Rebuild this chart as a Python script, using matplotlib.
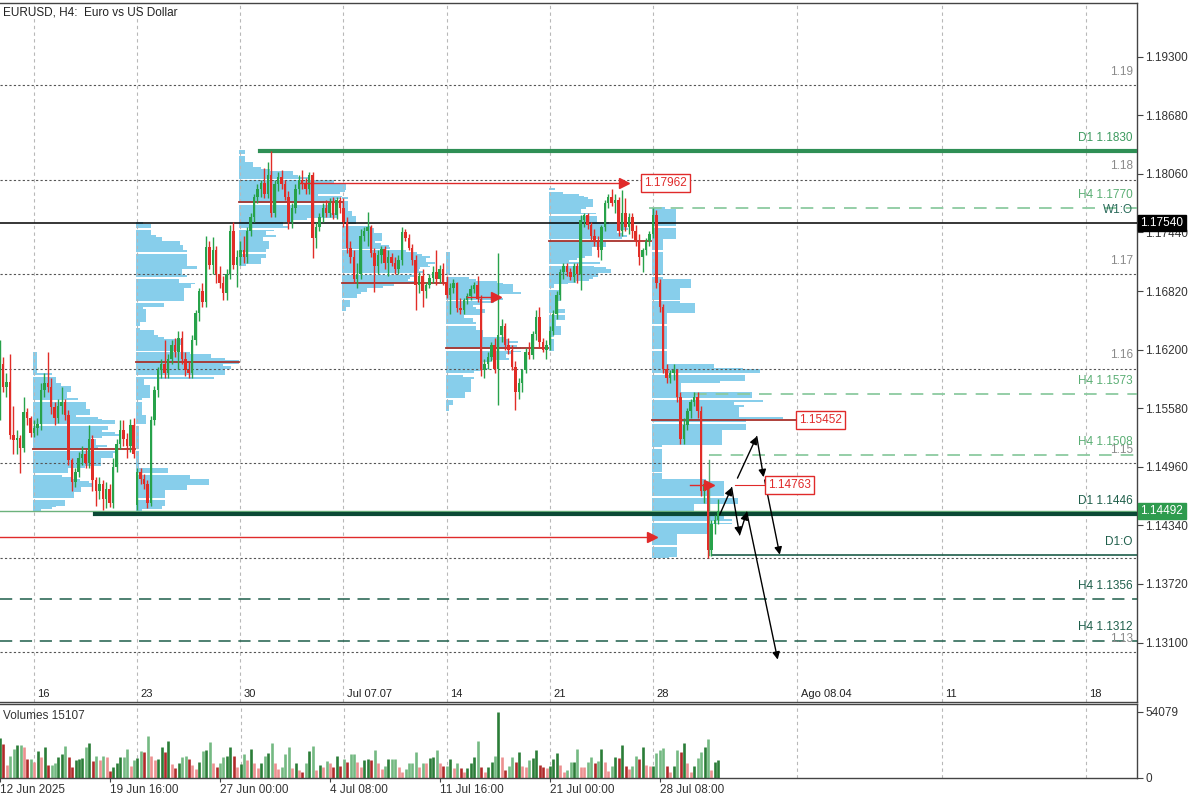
import numpy as np
import matplotlib.pyplot as plt
from matplotlib import transforms

plt.rcParams['font.family'] = ['Liberation Sans', 'DejaVu Sans']

# EURUSD H4 bars, 12 Jun 2025 08:00 .. 31 Jul 2025 04:00
opens = [
    1.1555, 1.1605, 1.1580, 1.1586, 1.1530, 1.1524, 1.1527, 1.1516, 1.1554, 1.1548,
    1.1532, 1.1537, 1.1541, 1.1577, 1.1585, 1.1580, 1.1559, 1.1548, 1.1560, 1.1565,
    1.1551, 1.1503, 1.1480, 1.1490, 1.1505, 1.1510, 1.1500, 1.1525, 1.1482, 1.1470,
    1.1478, 1.1462, 1.1472, 1.1458, 1.1496, 1.1520, 1.1535, 1.1525, 1.1518, 1.1540,
    1.1456, 1.1490, 1.1483, 1.1478, 1.1458, 1.1545, 1.1577, 1.1598, 1.1605, 1.1595,
    1.1610, 1.1625, 1.1618, 1.1632, 1.1610, 1.1598, 1.1595, 1.1630, 1.1659, 1.1682,
    1.1670, 1.1729, 1.1710, 1.1725, 1.1700, 1.1690, 1.1680, 1.1700, 1.1745, 1.1710,
    1.1718, 1.1725, 1.1718, 1.1745, 1.1760, 1.1782, 1.1790, 1.1796, 1.1785, 1.1805,
    1.1765, 1.1795, 1.1803, 1.1795, 1.1782, 1.1755, 1.1770, 1.1790, 1.1800, 1.1795,
    1.1790, 1.1805, 1.1738, 1.1750, 1.1760, 1.1770, 1.1765, 1.1775, 1.1762, 1.1778,
    1.1770, 1.1755, 1.1728, 1.1718, 1.1695, 1.1700, 1.1740, 1.1745, 1.1750, 1.1722,
    1.1708, 1.1720, 1.1726, 1.1712, 1.1718, 1.1712, 1.1705, 1.1715, 1.1744, 1.1738,
    1.1728, 1.1715, 1.1688, 1.1698, 1.1682, 1.1688, 1.1696, 1.1702, 1.1695, 1.1705,
    1.1692, 1.1678, 1.1685, 1.1690, 1.1664, 1.1662, 1.1672, 1.1677, 1.1684, 1.1688,
    1.1674, 1.1598, 1.1605, 1.1612, 1.1625, 1.1600, 1.1635, 1.1645, 1.1625, 1.1620,
    1.1602, 1.1575, 1.1585, 1.1598, 1.1618, 1.1614, 1.1636, 1.1655, 1.1628, 1.1620,
    1.1625, 1.1640, 1.1658, 1.1678, 1.1702, 1.1708, 1.1702, 1.1697, 1.1708, 1.1700,
    1.1757, 1.1762, 1.1752, 1.1740, 1.1735, 1.1725, 1.1750, 1.1775, 1.1782, 1.1775,
    1.1778, 1.1745, 1.1765, 1.1750, 1.1760, 1.1745, 1.1735, 1.1718, 1.1725, 1.1735,
    1.1742, 1.1762, 1.1690, 1.1665, 1.1600, 1.1590, 1.1595, 1.1598, 1.1570, 1.1525,
    1.1540, 1.1555, 1.1565, 1.1570, 1.1555, 1.1470, 1.1478, 1.1408, 1.1435, 1.1440,
]
highs = [
    1.1630, 1.1612, 1.1595, 1.1615, 1.1560, 1.1535, 1.1530, 1.1570, 1.1558, 1.1550,
    1.1545, 1.1548, 1.1585, 1.1595, 1.1617, 1.1590, 1.1565, 1.1568, 1.1580, 1.1568,
    1.1556, 1.1505, 1.1495, 1.1512, 1.1518, 1.1515, 1.1540, 1.1530, 1.1485, 1.1485,
    1.1482, 1.1480, 1.1478, 1.1505, 1.1525, 1.1545, 1.1545, 1.1532, 1.1547, 1.1548,
    1.1495, 1.1495, 1.1488, 1.1482, 1.1550, 1.1582, 1.1602, 1.1610, 1.1630, 1.1615,
    1.1630, 1.1632, 1.1640, 1.1640, 1.1618, 1.1608, 1.1635, 1.1662, 1.1685, 1.1690,
    1.1740, 1.1735, 1.1739, 1.1730, 1.1708, 1.1698, 1.1705, 1.1752, 1.1755, 1.1725,
    1.1735, 1.1740, 1.1750, 1.1765, 1.1785, 1.1795, 1.1800, 1.1812, 1.1819, 1.1830,
    1.1800, 1.1808, 1.1810, 1.1800, 1.1788, 1.1775, 1.1795, 1.1805, 1.1810, 1.1802,
    1.1808, 1.1808, 1.1755, 1.1765, 1.1775, 1.1778, 1.1780, 1.1782, 1.1782, 1.1782,
    1.1780, 1.1760, 1.1735, 1.1725, 1.1712, 1.1748, 1.1750, 1.1766, 1.1752, 1.1728,
    1.1725, 1.1730, 1.1730, 1.1725, 1.1722, 1.1718, 1.1720, 1.1750, 1.1748, 1.1742,
    1.1732, 1.1720, 1.1702, 1.1705, 1.1692, 1.1700, 1.1708, 1.1725, 1.1710, 1.1712,
    1.1698, 1.1690, 1.1695, 1.1692, 1.1675, 1.1675, 1.1680, 1.1688, 1.1692, 1.1698,
    1.1678, 1.1610, 1.1618, 1.1628, 1.1632, 1.1722, 1.1652, 1.1648, 1.1632, 1.1625,
    1.1608, 1.1590, 1.1600, 1.1622, 1.1628, 1.1640, 1.1662, 1.1665, 1.1632, 1.1630,
    1.1645, 1.1662, 1.1682, 1.1705, 1.1712, 1.1712, 1.1706, 1.1712, 1.1712, 1.1762,
    1.1765, 1.1765, 1.1755, 1.1748, 1.1740, 1.1752, 1.1778, 1.1785, 1.1790, 1.1785,
    1.1782, 1.1789, 1.1780, 1.1765, 1.1765, 1.1752, 1.1742, 1.1728, 1.1738, 1.1745,
    1.1770, 1.1768, 1.1695, 1.1668, 1.1605, 1.1598, 1.1605, 1.1600, 1.1575, 1.1548,
    1.1558, 1.1568, 1.1575, 1.1575, 1.1560, 1.1482, 1.1480, 1.1440, 1.1445, 1.1462,
]
lows = [
    1.1545, 1.1575, 1.1570, 1.1525, 1.1510, 1.1510, 1.1489, 1.1512, 1.1540, 1.1528,
    1.1528, 1.1530, 1.1535, 1.1570, 1.1575, 1.1552, 1.1540, 1.1542, 1.1552, 1.1545,
    1.1498, 1.1470, 1.1475, 1.1485, 1.1498, 1.1495, 1.1495, 1.1470, 1.1455, 1.1462,
    1.1450, 1.1452, 1.1453, 1.1452, 1.1490, 1.1515, 1.1518, 1.1505, 1.1512, 1.1505,
    1.1450, 1.1478, 1.1472, 1.1452, 1.1455, 1.1540, 1.1570, 1.1590, 1.1590, 1.1590,
    1.1605, 1.1612, 1.1600, 1.1605, 1.1592, 1.1590, 1.1590, 1.1625, 1.1650, 1.1665,
    1.1665, 1.1705, 1.1700, 1.1690, 1.1685, 1.1672, 1.1672, 1.1695, 1.1705, 1.1686,
    1.1710, 1.1712, 1.1712, 1.1740, 1.1755, 1.1775, 1.1782, 1.1780, 1.1780, 1.1760,
    1.1760, 1.1788, 1.1790, 1.1778, 1.1748, 1.1749, 1.1765, 1.1785, 1.1790, 1.1785,
    1.1785, 1.1717, 1.1728, 1.1745, 1.1755, 1.1760, 1.1760, 1.1758, 1.1758, 1.1765,
    1.1750, 1.1722, 1.1712, 1.1690, 1.1685, 1.1695, 1.1735, 1.1730, 1.1718, 1.1681,
    1.1700, 1.1712, 1.1705, 1.1698, 1.1708, 1.1700, 1.1700, 1.1710, 1.1735, 1.1725,
    1.1710, 1.1662, 1.1680, 1.1665, 1.1675, 1.1685, 1.1690, 1.1688, 1.1690, 1.1688,
    1.1675, 1.1658, 1.1680, 1.1660, 1.1658, 1.1658, 1.1668, 1.1672, 1.1680, 1.1670,
    1.1592, 1.1590, 1.1600, 1.1608, 1.1595, 1.1561, 1.1628, 1.1620, 1.1615, 1.1598,
    1.1556, 1.1568, 1.1575, 1.1595, 1.1610, 1.1610, 1.1630, 1.1622, 1.1618, 1.1610,
    1.1620, 1.1635, 1.1652, 1.1672, 1.1695, 1.1698, 1.1694, 1.1692, 1.1690, 1.1683,
    1.1750, 1.1748, 1.1735, 1.1730, 1.1718, 1.1715, 1.1745, 1.1770, 1.1772, 1.1765,
    1.1740, 1.1740, 1.1745, 1.1742, 1.1738, 1.1730, 1.1710, 1.1702, 1.1720, 1.1730,
    1.1738, 1.1685, 1.1660, 1.1595, 1.1585, 1.1585, 1.1588, 1.1565, 1.1520, 1.1520,
    1.1535, 1.1548, 1.1560, 1.1548, 1.1465, 1.1458, 1.1400, 1.1402, 1.1425, 1.1435,
]
closes = [
    1.1605, 1.1580, 1.1586, 1.1530, 1.1524, 1.1527, 1.1516, 1.1554, 1.1548, 1.1532,
    1.1537, 1.1541, 1.1577, 1.1585, 1.1580, 1.1559, 1.1548, 1.1560, 1.1565, 1.1551,
    1.1503, 1.1480, 1.1490, 1.1505, 1.1510, 1.1500, 1.1525, 1.1482, 1.1470, 1.1478,
    1.1462, 1.1472, 1.1458, 1.1496, 1.1520, 1.1535, 1.1525, 1.1518, 1.1540, 1.1510,
    1.1490, 1.1483, 1.1478, 1.1458, 1.1545, 1.1577, 1.1598, 1.1605, 1.1595, 1.1610,
    1.1625, 1.1618, 1.1632, 1.1610, 1.1598, 1.1595, 1.1630, 1.1659, 1.1682, 1.1670,
    1.1729, 1.1710, 1.1725, 1.1700, 1.1690, 1.1680, 1.1700, 1.1745, 1.1710, 1.1718,
    1.1725, 1.1718, 1.1745, 1.1760, 1.1782, 1.1790, 1.1796, 1.1785, 1.1805, 1.1765,
    1.1795, 1.1803, 1.1795, 1.1782, 1.1755, 1.1770, 1.1790, 1.1800, 1.1795, 1.1790,
    1.1805, 1.1738, 1.1750, 1.1760, 1.1770, 1.1765, 1.1775, 1.1762, 1.1778, 1.1770,
    1.1755, 1.1728, 1.1718, 1.1695, 1.1700, 1.1740, 1.1745, 1.1750, 1.1722, 1.1708,
    1.1720, 1.1726, 1.1712, 1.1718, 1.1712, 1.1705, 1.1715, 1.1744, 1.1738, 1.1728,
    1.1715, 1.1688, 1.1698, 1.1682, 1.1688, 1.1696, 1.1702, 1.1695, 1.1705, 1.1692,
    1.1678, 1.1685, 1.1690, 1.1664, 1.1662, 1.1672, 1.1677, 1.1684, 1.1688, 1.1674,
    1.1598, 1.1605, 1.1612, 1.1625, 1.1600, 1.1635, 1.1645, 1.1625, 1.1620, 1.1602,
    1.1575, 1.1585, 1.1598, 1.1618, 1.1614, 1.1636, 1.1655, 1.1628, 1.1620, 1.1625,
    1.1640, 1.1658, 1.1678, 1.1702, 1.1708, 1.1702, 1.1697, 1.1708, 1.1700, 1.1757,
    1.1762, 1.1752, 1.1740, 1.1735, 1.1725, 1.1750, 1.1775, 1.1782, 1.1775, 1.1778,
    1.1745, 1.1765, 1.1750, 1.1760, 1.1745, 1.1735, 1.1718, 1.1725, 1.1735, 1.1742,
    1.1762, 1.1690, 1.1665, 1.1600, 1.1590, 1.1595, 1.1598, 1.1570, 1.1525, 1.1540,
    1.1555, 1.1565, 1.1570, 1.1555, 1.1470, 1.1478, 1.1408, 1.1435, 1.1440, 1.1449,
]
volumes = [
    32700, 28000, 10600, 17800, 24000, 27400, 27400, 25300, 15400, 15400,
    13300, 22100, 17300, 25800, 10600, 10600, 12500, 16800, 19400, 26600,
    17300, 8800, 14600, 15400, 16200, 25300, 28500, 14100, 17800, 14600,
    17800, 16800, 6100, 8800, 12500, 16800, 17300, 24000, 9800, 14600,
    16000, 22100, 21300, 34600, 17800, 14600, 15200, 25800, 21300, 30100,
    11400, 8000, 12000, 17300, 17800, 15200, 10600, 7200, 13300, 22100,
    22600, 29300, 12500, 8800, 12500, 16800, 17800, 25800, 17800, 8800,
    11400, 19900, 14600, 24000, 12500, 8000, 12000, 17800, 20500, 28500,
    12000, 7200, 8800, 19400, 25300, 8000, 12500, 6700, 5300, 12000,
    22100, 26300, 6700, 10600, 8800, 14100, 12500, 9300, 17800, 9800,
    15200, 13300, 19400, 19900, 13300, 8800, 14600, 15200, 14600, 23100,
    12000, 7200, 9800, 15200, 15200, 15200, 9300, 5300, 7200, 12500,
    12500, 21300, 8800, 12500, 12000, 16000, 16800, 23100, 12000, 9800,
    9800, 15200, 8000, 12500, 8000, 5300, 8000, 12500, 16800, 30100,
    8800, 5300, 8800, 13300, 17800, 54079, 17300, 6700, 9800, 16800,
    13300, 21300, 9800, 8800, 14600, 16000, 23100, 10600, 8800, 8000,
    9800, 15200, 20500, 10600, 5300, 6700, 13300, 13300, 24000, 9300,
    8800, 13300, 16800, 12000, 14100, 24000, 13300, 6100, 9800, 16800,
    16000, 27400, 9800, 7200, 9800, 17800, 15200, 25800, 10600, 9800,
    9800, 20500, 22600, 24700, 9800, 5300, 9800, 23100, 21300, 28500,
    12500, 5300, 9800, 16000, 21300, 25300, 31900, 6700, 13300, 15107,
]

# weekly sessions (bar index of Monday 00:00) and their point of control
week_starts = [10, 40, 70, 100, 130, 160, 190]
poc_prices = [1.1515, 1.1607, 1.1776, 1.1690, 1.1622, 1.1735, 1.15452]
profile_span = [25, 30, 31, 27, 22, 23, 38]   # widest profile row, in bars

# time scale: weeks (future bars include weekends)
week_bars = [10, 40, 70, 100, 130, 160, 190, 232, 274, 316]
week_labels = ['16', '23', '30', 'Jul 07.07', '14', '21', '28', 'Ago 08.04', '11', '18']
date_bars = [0, 32, 64, 96, 128, 160, 192]
date_labels = ['12 Jun 2025', '19 Jun 16:00', '27 Jun 00:00', '4 Jul 08:00',
               '11 Jul 16:00', '21 Jul 00:00', '28 Jul 08:00']

price_ticks = [1.19300, 1.18680, 1.18060, 1.17440, 1.16820, 1.16200,
               1.15580, 1.14960, 1.14340, 1.13720, 1.13100]
round_levels = [1.19, 1.18, 1.17, 1.16, 1.15, 1.14, 1.13]
round_labels = ['1.19', '1.18', '1.17', '1.16', '1.15', '', '1.13']

d1_high, d1_low = 1.1830, 1.1446
h4_levels = [1.1770, 1.1573, 1.1508]
h4_lower = [1.1356, 1.1312]
w1_open, d1_open = 1.1754, 1.14026
bid = 1.14492

# naked POC markers: price, from bar, to bar
naked_prices = [1.14217, 1.17962, 1.16757, 1.14763]
naked_from = [0.11, 87.4, 136.0, 200.8]
naked_to = [191.0, 182.8, 145.5, 207.5]

# projected zig-zag paths (bar, price)
path_a_x = [209.4, 212.9, 215.2, 217.3, 226.3]
path_a_y = [1.1445, 1.1474, 1.1424, 1.1448, 1.1292]
path_b_x = [214.6, 220.2, 222.2]
path_b_y = [1.1484, 1.1528, 1.1485]
path_c_x = [222.5, 226.9]
path_c_y = [1.1482, 1.1403]

GREEN = '#27a24a'
RED = '#e12d27'
MARK = '#e02a2a'
BLUE = '#87ceeb'

o = np.array(opens)
h = np.array(highs)
l = np.array(lows)
c = np.array(closes)
v = np.array(volumes)
n = len(c)
idx = np.arange(n)
up = c >= o

X0, X1 = 0.11, 330.8
fig = plt.figure(figsize=(12, 8), dpi=100)
ax = fig.add_axes([0, 98 / 800, 1137 / 1200, 699 / 800])
axv = fig.add_axes([0, 22 / 800, 1137 / 1200, 74 / 800])
ax.set_xlim(X0, X1)
ax.set_ylim(1.12471, 1.19868)
axv.set_xlim(X0, X1)
axv.set_ylim(0, 60634)

# weekly volume profiles
step = 0.0002
for w, s in enumerate(week_starts):
    e = min(s + 30, n)
    levels = np.arange(l[s:e].min(), h[s:e].max() + step / 2, step)
    prof = np.zeros(len(levels))
    for i in range(s, e):
        inside = (levels >= l[i] - 1e-9) & (levels <= h[i] + 1e-9)
        prof[inside] += v[i] / max(inside.sum(), 1)
    widths = prof / prof.max() * profile_span[w]
    cols = ['white' if k % 13 == 6 else BLUE for k in range(len(levels))]
    ax.barh(levels, widths, left=s - 0.3, height=step, color=cols, lw=0, zorder=1)
    right = s + 29.5 if w < 6 else 232
    ax.plot([s - 0.3, right], [poc_prices[w]] * 2, color='#a8322c', lw=1.3, zorder=2.5)

# grid
for b in week_bars:
    for a in (ax, axv):
        a.axvline(b, color='#b8b8b8', lw=0.8, ls=(0, (3, 3)), zorder=1.5)
for p in round_levels:
    ax.axhline(p, color='#555555', lw=0.8, ls=(0, (2, 2)), zorder=2)


def right_label(text, price, color):
    ax.annotate(text, xy=(1, price), xycoords=('axes fraction', 'data'),
                xytext=(-3, 9.5), textcoords='offset points', ha='right',
                va='center', color=color, fontsize=8.5, zorder=6)


for p, t in zip(round_levels, round_labels):
    if t:
        right_label(t, p, '#8a8a8a')

# key levels
ax.plot([75.7, X1], [d1_high] * 2, color='#2f8f55', lw=3, zorder=2.6)
right_label(f'D1 {d1_high:.4f}', d1_high, '#3c9a5f')
h4_from = [189.0, 202.0, 206.3]
for p, x0 in zip(h4_levels, h4_from):
    ax.plot([x0, X1], [p, p], color='#8ccaa0', lw=1.3, ls=(0, (7, 5)), zorder=2.6)
    right_label(f'H4 {p:.4f}', p, '#5aae74')
for p in h4_lower:
    ax.axhline(p, color='#1e5e4a', lw=1.1, ls=(0, (8, 5)), zorder=2.6)
    right_label(f'H4 {p:.4f}', p, '#1e5e4a')
ax.axhline(bid, color='#6cb27c', lw=1, zorder=2.6)
ax.plot([27.8, X1], [d1_low] * 2, color='#0b4a36', lw=3, zorder=2.7)
right_label(f'D1 {d1_low:.4f}', d1_low, '#1e5e4a')
ax.axhline(w1_open, color='black', lw=1.1, zorder=2.6)
right_label('W1:O', w1_open, '#2a6a5a')
ax.plot([207.2, X1], [d1_open] * 2, color='#1e5e4a', lw=1.2, zorder=2.6)
ax.plot([206.3, 206.3], [d1_open, h4_levels[2] - 0.0005], color='#5aae74', lw=1, zorder=2.6)
right_label('D1:O', d1_open, '#1e5e4a')

# candles
colors = np.where(up, GREEN, RED)
ax.vlines(idx, l, h, colors=colors, lw=1.0, zorder=3)
body = np.maximum(np.abs(c - o), 0.00006)
ax.bar(idx, body, bottom=np.minimum(o, c), width=0.72, color=colors, lw=0, zorder=3.1)

# naked POC arrows and price boxes
for p, x0, x1 in zip(naked_prices, naked_from, naked_to):
    ax.plot([x0, x1 - 1], [p, p], color=MARK, lw=1, zorder=3.5)
    ax.plot(x1 - 1.2, p, marker='>', ms=7, color=MARK, zorder=3.5)
ax.plot([214, 223], [naked_prices[3]] * 2, color=MARK, lw=0.8, zorder=3.5)
box = dict(boxstyle='square,pad=0.25', fc='white', ec=MARK, lw=1)
for txt, p, x0 in [('1.17962', naked_prices[1], 187.5),
                   ('1.15452', poc_prices[6], 232.6),
                   ('1.14763', naked_prices[3], 223.4)]:
    ax.text(x0, p, txt, color=MARK, fontsize=8.5, ha='left', va='center', bbox=box, zorder=5)

# projected path arrows
for px, py in [(path_a_x, path_a_y), (path_b_x, path_b_y), (path_c_x, path_c_y)]:
    for k in range(len(px) - 1):
        ax.annotate('', xy=(px[k + 1], py[k + 1]), xytext=(px[k], py[k]),
                    arrowprops=dict(arrowstyle='-|>', color='black', lw=1,
                                    mutation_scale=11, shrinkA=0, shrinkB=0), zorder=4)

# week labels inside the chart bottom
for b, t in zip(week_bars, week_labels):
    ax.annotate(t, xy=(b, 0), xycoords=('data', 'axes fraction'), xytext=(2.5, 2.5),
                textcoords='offset points', ha='left', va='bottom', fontsize=8, color='#222222')

ax.text(0.003, 0.987, 'EURUSD, H4:  Euro vs US Dollar', transform=ax.transAxes,
        fontsize=8.5, color='#222222', va='center', ha='left')

# right price scale
ax.yaxis.tick_right()
ax.set_yticks(price_ticks)
ax.set_yticklabels([f'{p:.5f}' for p in price_ticks])
ax.tick_params(axis='y', direction='out', length=4, width=0.8, colors='#444444',
               labelcolor='#333333', labelsize=8.5, pad=2)
ax.tick_params(axis='x', bottom=False, labelbottom=False)
trans = transforms.blended_transform_factory(ax.transAxes, ax.transData)
ax.text(1.003, w1_open, '1.17540', transform=trans, color='white', fontsize=8.5,
        va='center', ha='left', clip_on=False, zorder=7,
        bbox=dict(boxstyle='square,pad=0.2', fc='black', ec='black'))
ax.text(1.003, bid, '1.14492', transform=trans, color='white', fontsize=8.5,
        va='center', ha='left', clip_on=False, zorder=7,
        bbox=dict(boxstyle='square,pad=0.2', fc='#2e9b4e', ec='#2e9b4e'))

# volumes
vcol = []
for i in range(n):
    rising = i == 0 or v[i] >= v[i - 1]
    if rising:
        vcol.append('#2b7d38' if up[i] else '#74b982')
    else:
        vcol.append('#b02a2a' if not up[i] else '#ec9090')
axv.vlines(idx, 0, v, colors=vcol, lw=1.9)
axv.text(0.003, 0.84, f'Volumes {volumes[-1]}', transform=axv.transAxes,
         fontsize=8.5, color='#333333', va='center')
axv.yaxis.tick_right()
axv.set_yticks([0, 54079])
axv.set_yticklabels(['0', '54079'])
axv.tick_params(axis='y', direction='out', length=4, width=0.8, colors='#444444',
                labelcolor='#333333', labelsize=8.5, pad=2)
axv.set_xticks(date_bars)
axv.set_xticklabels(date_labels, ha='left')
axv.tick_params(axis='x', direction='out', length=3, width=0.8, colors='#444444',
                labelcolor='#333333', labelsize=8.5, pad=1)

for a in (ax, axv):
    a.spines['left'].set_visible(False)
    for sp in ('top', 'right', 'bottom'):
        a.spines[sp].set_color('#444444')
        a.spines[sp].set_linewidth(1)

fig.savefig('out.png', dpi=100)
